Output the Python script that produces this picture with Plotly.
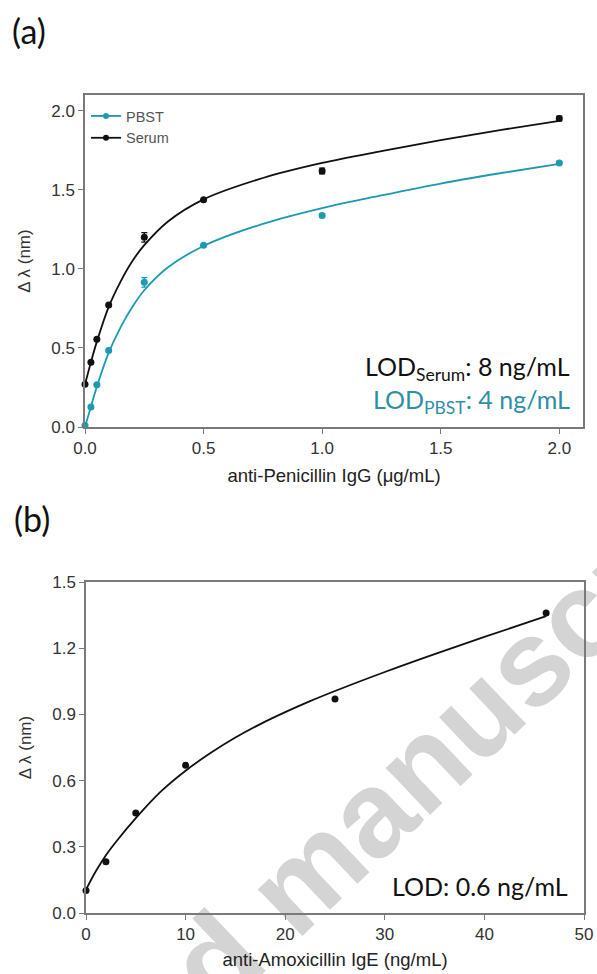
import plotly.graph_objects as go

# ---------------- data: panel (a) ----------------
conc_a = [0, 0.025, 0.05, 0.1, 0.25, 0.5, 1.0, 2.0]
pbst_y = [0.01, 0.126, 0.267, 0.484, 0.915, 1.15, 1.338, 1.67]
pbst_err = [0.0, 0.0, 0.0, 0.0, 0.03, 0.0, 0.012, 0.01]
serum_y = [0.271, 0.41, 0.555, 0.772, 1.20, 1.437, 1.62, 1.951]
serum_err = [0.0, 0.0, 0.0, 0.0, 0.03, 0.0, 0.018, 0.015]

fit_x_a = [0, 0.025, 0.05, 0.1, 0.15, 0.2, 0.25, 0.35, 0.5, 0.75, 1.0, 1.25, 1.5, 1.75, 2.0]
pbst_fit = [0, 0.13, 0.255, 0.47, 0.63, 0.76, 0.865, 1.01, 1.145, 1.285, 1.385, 1.465, 1.54, 1.605, 1.665]
serum_fit = [0.27, 0.41, 0.54, 0.76, 0.92, 1.05, 1.15, 1.30, 1.44, 1.575, 1.67, 1.745, 1.815, 1.878, 1.937]

# ---------------- data: panel (b) ----------------
conc_b = [0, 2, 5, 10, 25, 46.2]
ige_y = [0.102, 0.232, 0.453, 0.669, 0.97, 1.36]
fit_x_b = [0, 1, 2, 3, 5, 7.5, 10, 12.5, 15, 17.5, 20, 22.5, 25, 30, 35, 40, 46.2]
ige_fit = [0.106, 0.19, 0.262, 0.322, 0.43, 0.55, 0.645, 0.725, 0.795, 0.856, 0.91, 0.96, 1.006,
           1.092, 1.173, 1.251, 1.345]

xticks_a = [0.0, 0.5, 1.0, 1.5, 2.0]
yticks_a = [0.0, 0.5, 1.0, 1.5, 2.0]
xticks_b = [0, 10, 20, 30, 40, 50]
yticks_b = [0.0, 0.3, 0.6, 0.9, 1.2, 1.5]

TEAL = "#1b9ab2"
BLACK = "#111111"
AXC = "#7a7a7a"

W, H = 597, 974


def px(x):
    return x / W


def py(y):
    return 1 - y / H


fig = go.Figure()

# panel (a) fits
fig.add_trace(go.Scatter(x=fit_x_a, y=pbst_fit, mode="lines", line=dict(color=TEAL, width=1.8, shape="spline"),
                         showlegend=False, xaxis="x", yaxis="y", hoverinfo="skip"))
fig.add_trace(go.Scatter(x=fit_x_a, y=serum_fit, mode="lines", line=dict(color=BLACK, width=1.8, shape="spline"),
                         showlegend=False, xaxis="x", yaxis="y", hoverinfo="skip"))
# panel (a) points
fig.add_trace(go.Scatter(x=conc_a, y=pbst_y, mode="markers", name="PBST",
                         marker=dict(color=TEAL, size=7),
                         error_y=dict(type="data", array=pbst_err, color=TEAL, thickness=1.3, width=3),
                         cliponaxis=False, showlegend=False, xaxis="x", yaxis="y"))
fig.add_trace(go.Scatter(x=conc_a, y=serum_y, mode="markers", name="Serum",
                         marker=dict(color=BLACK, size=7),
                         error_y=dict(type="data", array=serum_err, color=BLACK, thickness=1.3, width=3),
                         cliponaxis=False, showlegend=False, xaxis="x", yaxis="y"))
# legend entries
fig.add_trace(go.Scatter(x=[None], y=[None], mode="lines+markers", name="PBST",
                         line=dict(color=TEAL, width=1.8), marker=dict(color=TEAL, size=6),
                         xaxis="x", yaxis="y"))
fig.add_trace(go.Scatter(x=[None], y=[None], mode="lines+markers", name="Serum",
                         line=dict(color=BLACK, width=1.8), marker=dict(color=BLACK, size=6),
                         xaxis="x", yaxis="y"))

# panel (b)
fig.add_trace(go.Scatter(x=fit_x_b, y=ige_fit, mode="lines", line=dict(color=BLACK, width=1.8, shape="spline"),
                         showlegend=False, xaxis="x2", yaxis="y2", hoverinfo="skip"))
fig.add_trace(go.Scatter(x=conc_b, y=ige_y, mode="markers", marker=dict(color=BLACK, size=7),
                         cliponaxis=False, showlegend=False, xaxis="x2", yaxis="y2"))

axis_common = dict(showline=True, linecolor=AXC, linewidth=1.5, mirror=True, ticks="outside",
                   ticklen=5, tickcolor=AXC, tickwidth=1.3, showgrid=False, zeroline=False,
                   automargin=False,
                   tickfont=dict(family="Liberation Sans", size=17, color="#333333"))

xt_font = dict(family="Liberation Sans", size=18.5, color="#222222")
yt_font = dict(family="Liberation Sans", size=17, color="#333333")

fig.update_layout(
    width=W, height=H, margin=dict(l=0, r=0, t=0, b=0, autoexpand=False),
    paper_bgcolor="white", plot_bgcolor="rgba(0,0,0,0)",
    xaxis=dict(domain=[px(85), px(583)], range=[0, 2.1], tickvals=xticks_a, ticktext=[f"{v:.1f}" for v in xticks_a],
               anchor="y", title=dict(text="anti-Penicillin IgG (μg/mL)", standoff=12, font=xt_font),
               **axis_common),
    yaxis=dict(domain=[py(427), py(95)], range=[0, 2.1], tickvals=yticks_a,
               ticktext=[f"{v:.1f}" for v in yticks_a], anchor="x",
               title=dict(text="Δ λ (nm)", standoff=16, font=yt_font),
               **axis_common),
    xaxis2=dict(domain=[px(86), px(584)], range=[0, 50], tickvals=xticks_b, anchor="y2",
                title=dict(text="anti-Amoxicillin IgE (ng/mL)", standoff=10, font=xt_font),
                **axis_common),
    yaxis2=dict(domain=[py(913), py(582)], range=[0, 1.5], tickvals=yticks_b,
                ticktext=[f"{v:.1f}" for v in yticks_b], anchor="x2",
                title=dict(text="Δ λ (nm)", standoff=16, font=yt_font),
                **axis_common),
    legend=dict(x=px(86), y=py(100), xanchor="left", yanchor="top", bgcolor="rgba(0,0,0,0)",
                font=dict(family="Liberation Sans", size=14.5, color="#555555"),
                itemwidth=30),
    showlegend=True,
)

# watermark (drawn below the data)
fig.add_shape(type="rect", xref="paper", yref="paper", x0=px(283), x1=px(289), y0=py(880), y1=py(874),
              line=dict(width=0), fillcolor="rgba(0,0,0,0)", layer="below",
              label=dict(text="<b>Accepted manuscript</b>", textangle=-43.5, textposition="middle center",
                         font=dict(family="Liberation Sans", size=122, color="#d4d4d4")))

ann_font = "Lato"
fig.add_annotation(text="(a)", x=px(10), y=py(31), xref="paper", yref="paper", xanchor="left",
                   yanchor="middle", showarrow=False, font=dict(family=ann_font, size=34, color="#111111"))
fig.add_annotation(text="(b)", x=px(12), y=py(518), xref="paper", yref="paper", xanchor="left",
                   yanchor="middle", showarrow=False, font=dict(family=ann_font, size=34, color="#111111"))
fig.add_annotation(text="LOD<sub>Serum</sub>: 8 ng/mL", x=px(572), y=py(368), xref="paper", yref="paper",
                   xanchor="right", yanchor="middle", showarrow=False,
                   font=dict(family=ann_font, size=25, color="#111111"))
fig.add_annotation(text="LOD<sub>PBST</sub>: 4 ng/mL", x=px(572), y=py(401), xref="paper", yref="paper",
                   xanchor="right", yanchor="middle", showarrow=False,
                   font=dict(family=ann_font, size=25, color="#2f8fa8"))
fig.add_annotation(text="LOD: 0.6 ng/mL", x=px(570), y=py(886), xref="paper", yref="paper",
                   xanchor="right", yanchor="middle", showarrow=False,
                   font=dict(family=ann_font, size=25, color="#111111"))

# remove the browser's default page margin so the 597x974 figure fills the window exactly
fig.write_html("out.html", config={"displayModeBar": False},
               post_script="document.body.style.margin='0';document.body.style.overflow='hidden';")
